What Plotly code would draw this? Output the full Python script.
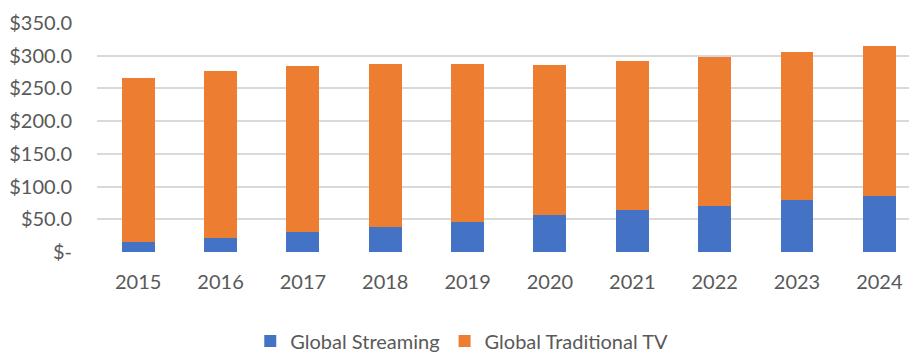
import plotly.graph_objects as go

years = ["2015", "2016", "2017", "2018", "2019", "2020", "2021", "2022", "2023", "2024"]
streaming = [15.2, 20.7, 29.9, 38.5, 46.1, 57.2, 64.4, 70.5, 79.1, 86.2]
traditional = [250.6, 255.7, 253.7, 248.1, 242.0, 227.9, 227.8, 227.2, 227.3, 229.3]
y_tickvals = [0, 50, 100, 150, 200, 250, 300, 350]
y_ticktext = ["$-", "$50.0", "$100.0", "$150.0", "$200.0", "$250.0", "$300.0", "$350.0"]

font_family = "Lato, 'Open Sans', sans-serif"
text_color = "#595959"

x_idx = list(range(len(years)))

fig = go.Figure()
fig.add_trace(go.Bar(x=x_idx, y=streaming, name="Global Streaming",
                     marker=dict(color="#4472C4", line=dict(width=0))))
fig.add_trace(go.Bar(x=x_idx, y=traditional, name="Global Traditional TV",
                     marker=dict(color="#ED7D31", line=dict(width=0))))

fig.update_layout(
    barmode="stack",
    bargap=0.6,
    width=909, height=356,
    margin=dict(l=96.5, r=0, t=23, b=103.7),
    paper_bgcolor="white", plot_bgcolor="white",
    font=dict(family=font_family, size=20, color=text_color),
    showlegend=True,
    legend=dict(orientation="h", xref="container", yref="container",
                x=0.508, y=0.042, xanchor="center", yanchor="middle",
                font=dict(size=20, color=text_color), itemwidth=30,
                tracegroupgap=0, traceorder="normal"),
    xaxis=dict(tickmode="array", tickvals=x_idx, ticktext=years,
               range=[-0.5, 9.36], showgrid=False, zeroline=False,
               showline=False, ticks="", ticklabelstandoff=16),
    yaxis=dict(range=[0, 350], tickmode="array", tickvals=y_tickvals,
               ticktext=y_ticktext, showgrid=True, gridcolor="#D9D9D9",
               gridwidth=1.5, zeroline=False, showline=False, ticks="",
               ticklabelstandoff=24),
)

fig.write_html("out.html")
